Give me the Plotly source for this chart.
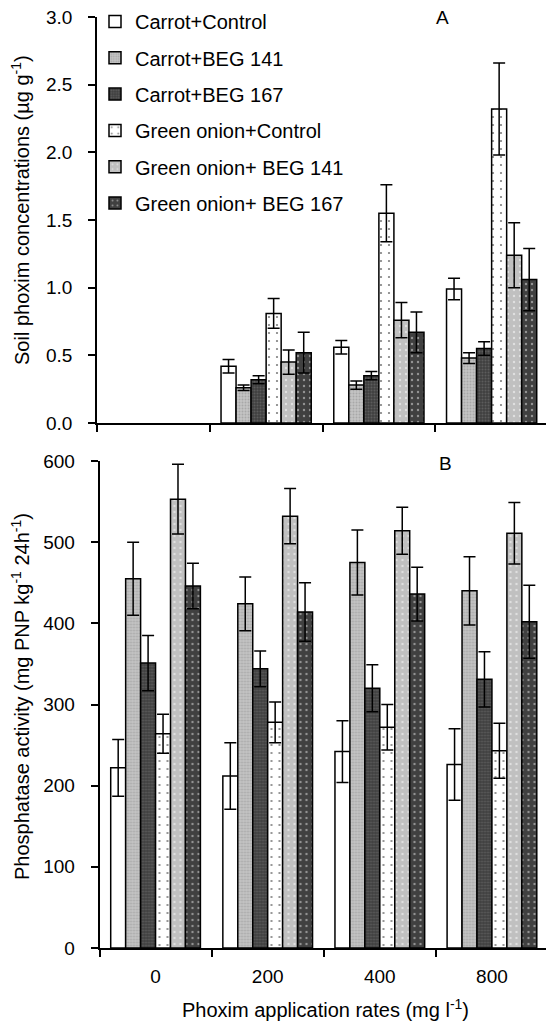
import plotly.graph_objects as go

categories = ["0", "200", "400", "800"]
series_names = ["Carrot+Control", "Carrot+BEG 141", "Carrot+BEG 167",
                "Green onion+Control", "Green onion+ BEG 141", "Green onion+ BEG 167"]

# Panel A: soil phoxim concentrations (ug g-1); no bars drawn at rate 0
carrot_control_A = [None, 0.42, 0.56, 0.99]
carrot_control_A_err = [None, 0.05, 0.05, 0.08]
carrot_beg141_A = [None, 0.26, 0.28, 0.48]
carrot_beg141_A_err = [None, 0.02, 0.03, 0.04]
carrot_beg167_A = [None, 0.32, 0.35, 0.55]
carrot_beg167_A_err = [None, 0.03, 0.03, 0.05]
onion_control_A = [None, 0.81, 1.55, 2.32]
onion_control_A_err = [None, 0.11, 0.21, 0.34]
onion_beg141_A = [None, 0.45, 0.76, 1.24]
onion_beg141_A_err = [None, 0.09, 0.13, 0.24]
onion_beg167_A = [None, 0.52, 0.67, 1.06]
onion_beg167_A_err = [None, 0.15, 0.15, 0.23]

# Panel B: phosphatase activity (mg PNP kg-1 24h-1)
carrot_control_B = [222, 212, 242, 226]
carrot_control_B_err = [35, 41, 38, 44]
carrot_beg141_B = [455, 424, 475, 440]
carrot_beg141_B_err = [45, 33, 40, 42]
carrot_beg167_B = [351, 344, 320, 331]
carrot_beg167_B_err = [34, 22, 29, 34]
onion_control_B = [264, 278, 272, 243]
onion_control_B_err = [24, 25, 28, 34]
onion_beg141_B = [553, 532, 514, 511]
onion_beg141_B_err = [43, 34, 29, 38]
onion_beg167_B = [446, 414, 436, 402]
onion_beg167_B_err = [28, 36, 33, 45]

A_vals = [carrot_control_A, carrot_beg141_A, carrot_beg167_A, onion_control_A, onion_beg141_A, onion_beg167_A]
A_errs = [carrot_control_A_err, carrot_beg141_A_err, carrot_beg167_A_err, onion_control_A_err, onion_beg141_A_err, onion_beg167_A_err]
B_vals = [carrot_control_B, carrot_beg141_B, carrot_beg167_B, onion_control_B, onion_beg141_B, onion_beg167_B]
B_errs = [carrot_control_B_err, carrot_beg141_B_err, carrot_beg167_B_err, onion_control_B_err, onion_beg141_B_err, onion_beg167_B_err]

styles = [
    dict(color="white"),
    dict(color="#c4c4c4", pattern=dict(shape=".", bgcolor="#c4c4c4", fgcolor="#8c8c8c", size=3, solidity=0.35, fillmode="overlay")),
    dict(color="#404040", pattern=dict(shape=".", bgcolor="#404040", fgcolor="#777777", size=3, solidity=0.35, fillmode="overlay")),
    dict(color="white", pattern=dict(shape=".", bgcolor="white", fgcolor="black", size=8, solidity=0.06, fillmode="overlay")),
    dict(color="#c0c0c0", pattern=dict(shape=".", bgcolor="#c0c0c0", fgcolor="white", size=6, solidity=0.12, fillmode="overlay")),
    dict(color="#404040", pattern=dict(shape=".", bgcolor="#404040", fgcolor="#e8e8e8", size=6, solidity=0.12, fillmode="overlay")),
]

FONT = "Liberation Sans, Arial, sans-serif"
fig = go.Figure()

def make_marker(st):
    marker = dict(color=st["color"], line=dict(color="black", width=1.5))
    if "pattern" in st:
        marker["pattern"] = st["pattern"]
    return marker

for i, name in enumerate(series_names):
    fig.add_trace(go.Bar(
        x=categories, y=A_vals[i], name=name, marker=make_marker(styles[i]),
        error_y=dict(type="data", array=A_errs[i], color="black", thickness=1.5, width=6),
        xaxis="x", yaxis="y", legendgroup=name, showlegend=True))
for i, name in enumerate(series_names):
    fig.add_trace(go.Bar(
        x=categories, y=B_vals[i], name=name, marker=make_marker(styles[i]),
        error_y=dict(type="data", array=B_errs[i], color="black", thickness=1.5, width=6),
        xaxis="x2", yaxis="y2", legendgroup=name, showlegend=False))

# page body has an 8px margin, so the figure starts at (8, 8) in the window
OFF = 8
W, H = 554 - OFF, 1025 - OFF
def px_x(p): return (p - OFF) / W
def px_y(p): return 1 - (p - OFF) / H

axis_common = dict(showline=True, linecolor="black", linewidth=1.5, ticks="outside",
                   tickcolor="black", tickwidth=1.5, ticklen=7, showgrid=False, zeroline=False,
                   tickfont=dict(family=FONT, size=19, color="black"))

def ann(text, xp, yp, angle=0, size=20):
    return dict(text=text, x=px_x(xp), y=px_y(yp), xref="paper", yref="paper", showarrow=False,
                xanchor="center", yanchor="middle", textangle=angle,
                font=dict(family=FONT, size=size, color="black"))

fig.update_layout(
    width=W, height=H, margin=dict(l=0, r=0, t=0, b=0, autoexpand=False),
    paper_bgcolor="white", plot_bgcolor="white",
    barmode="group", bargap=0.2, bargroupgap=0,
    font=dict(family=FONT, size=19, color="black"),
    xaxis=dict(domain=[px_x(97), px_x(548)], anchor="y", type="category", tickson="boundaries",
               showticklabels=False, **axis_common),
    yaxis=dict(domain=[px_y(423), px_y(17)], anchor="x", range=[0, 3], dtick=0.5, tickformat=".1f",
               ticklabelstandoff=12, ticklabeloverflow="allow", **axis_common),
    xaxis2=dict(domain=[px_x(99.5), px_x(548)], anchor="y2", type="category", tickson="boundaries",
                ticklabelstandoff=10, **axis_common),
    yaxis2=dict(domain=[px_y(948), px_y(461)], anchor="x2", range=[0, 600], dtick=100,
                ticklabelstandoff=12, ticklabeloverflow="allow", **axis_common),
    legend=dict(x=px_x(95), y=px_y(2), xref="paper", yref="paper", xanchor="left", yanchor="top",
                bgcolor="rgba(0,0,0,0)", font=dict(family=FONT, size=20, color="black"),
                tracegroupgap=7.3, itemwidth=30, traceorder="grouped"),
    annotations=[
        ann("A", 442, 18, size=19),
        ann("B", 445, 463, size=19),
        ann("Soil phoxim concentrations (µg g<sup>-1</sup>)", 20, 210, -90),
        ann("Phosphatase activity (mg PNP kg<sup>-1</sup> 24h<sup>-1</sup>)", 20, 697, -90),
        ann("Phoxim application rates (mg l<sup>-1</sup>)", 325, 1008),
    ],
)

fig.write_html("out.html")
